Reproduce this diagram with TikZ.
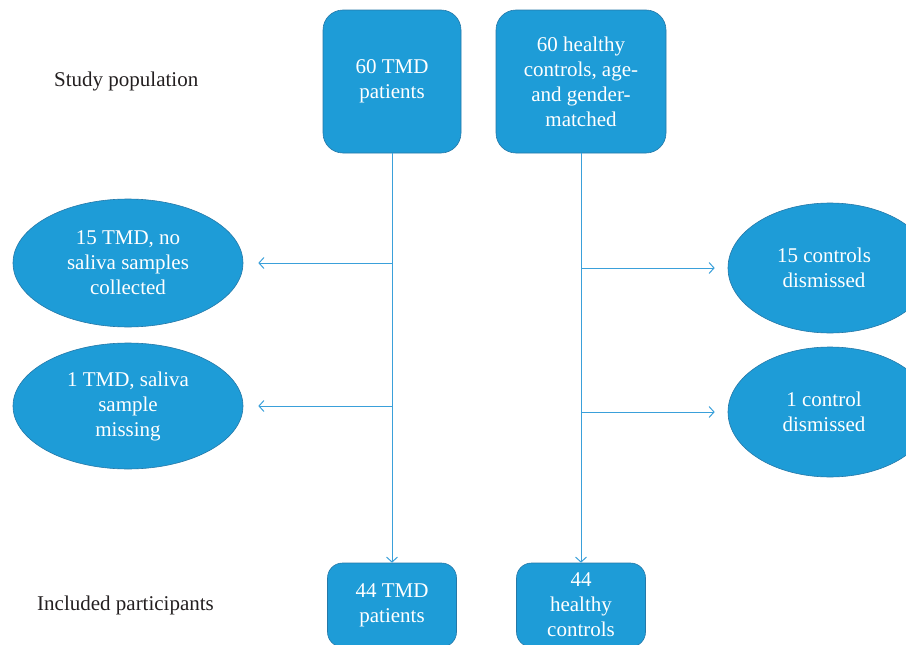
\documentclass[tikz,border=0pt]{standalone}
\usepackage{fontspec}
\setmainfont{Liberation Serif}
\usepackage{tikz}
\usetikzlibrary{arrows.meta, shapes.geometric}

\definecolor{boxblue}{HTML}{1E9CD7}
\definecolor{rimblue}{HTML}{2478A8}
\definecolor{lineblue}{HTML}{3AA0DA}
\definecolor{inkgray}{HTML}{231F20}

\begin{document}
\begin{tikzpicture}[x=1pt,y=-1pt,>={Straight Barb[length=5pt,width=11pt]}]
		\tikzstyle{every node}=[font=\fontsize{21}{25}\selectfont]
		\tikzstyle{group}=[draw=rimblue,line width=0.6pt,fill=boxblue,text=white,align=center,rounded corners=20pt,inner sep=0pt]
		\tikzstyle{dropped}=[ellipse,draw=rimblue,line width=0.6pt,fill=boxblue,text=white,align=center,inner sep=0pt]
		\tikzstyle{stage}=[text=inkgray,anchor=west,inner sep=0pt]
		\tikzstyle{flow}=[draw=lineblue,line width=1pt]

		\clip (0,0) rectangle (906,645);

		\node[stage] (pop) at (54,81.5) {Study population};
		\node[stage] (incl) at (37,605.5) {Included participants};

		\node[group,minimum width=138pt,minimum height=143pt] (tmd) at (392,81.5) {60 TMD\\patients};
		\node[group,minimum width=170pt,minimum height=143pt] (hc) at (581,81.5) {60 healthy\\controls, age-\\and gender-\\matched};

		\node[dropped,minimum width=230pt,minimum height=128pt] (noSaliva) at (128,263) {15 TMD, no\\saliva samples\\collected};
		\node[dropped,minimum width=230pt,minimum height=126pt] (missing) at (128,406) {1 TMD, saliva\\sample\\missing};
		\node[dropped,minimum width=204pt,minimum height=130pt] (hcOut1) at (830,268) {\hspace*{-12pt}15 controls\\\hspace*{-12pt}dismissed};
		\node[dropped,minimum width=204pt,minimum height=130pt] (hcOut2) at (830,412) {\hspace*{-12pt}1 control\\\hspace*{-12pt}dismissed};

		\node[group,rounded corners=15pt,minimum width=129pt,minimum height=84pt] (tmdIn) at (392,605) {44 TMD\\patients};
		\node[group,rounded corners=15pt,minimum width=129pt,minimum height=84pt] (hcIn) at (581,605) {44\\healthy\\controls};

		% branch points on the two main lines
		\coordinate (t1) at (tmd.south |- noSaliva);
		\coordinate (t2) at (tmd.south |- missing);
		\coordinate (h1) at (hc.south |- hcOut1);
		\coordinate (h2) at (hc.south |- hcOut2);

		\path[flow]
		(tmd) edge[->] (tmdIn)
		(hc) edge[->] (hcIn)
		(t1) edge[->,shorten >=15pt] (noSaliva)
		(t2) edge[->,shorten >=15pt] (missing)
		(h1) edge[->,shorten >=13pt] (hcOut1)
		(h2) edge[->,shorten >=13pt] (hcOut2);

	\end{tikzpicture}
\end{document}
